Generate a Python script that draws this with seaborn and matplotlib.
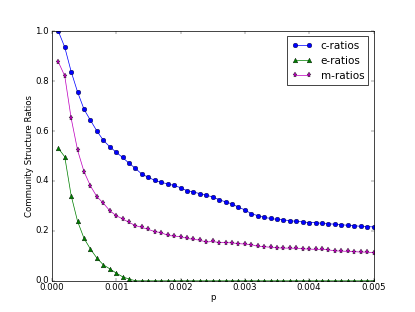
import numpy as np
import pandas as pd
import matplotlib
matplotlib.use('Agg')
import matplotlib.pyplot as plt
import seaborn as sns

# valores (p = 0.0001 ... 0.005)
p = np.arange(1, 51) * 0.0001

c_ratios = [1.000, 0.936, 0.838, 0.756, 0.687, 0.643, 0.600, 0.563, 0.537, 0.515,
            0.494, 0.471, 0.450, 0.427, 0.415, 0.402, 0.395, 0.388, 0.382, 0.373,
            0.361, 0.356, 0.349, 0.343, 0.336, 0.325, 0.316, 0.308, 0.295, 0.284,
            0.269, 0.261, 0.254, 0.250, 0.246, 0.244, 0.241, 0.238, 0.236, 0.233,
            0.233, 0.230, 0.228, 0.227, 0.225, 0.222, 0.221, 0.218, 0.217, 0.216]

e_ratios = [0.531, 0.497, 0.341, 0.238, 0.170, 0.127, 0.091, 0.064, 0.048, 0.031,
            0.016, 0.007] + [0.0] * 38

m_ratios = [0.877, 0.821, 0.651, 0.523, 0.437, 0.380, 0.337, 0.311, 0.281, 0.261,
            0.248, 0.234, 0.221, 0.214, 0.206, 0.197, 0.193, 0.182, 0.179, 0.177,
            0.170, 0.166, 0.163, 0.155, 0.158, 0.153, 0.153, 0.152, 0.149, 0.147,
            0.145, 0.138, 0.137, 0.134, 0.132, 0.131, 0.131, 0.130, 0.128, 0.127,
            0.126, 0.126, 0.124, 0.120, 0.119, 0.118, 0.117, 0.115, 0.115, 0.112]

series = [('c-ratios', c_ratios, 'b', 'o', 6.5),
          ('e-ratios', e_ratios, 'g', '^', 6.5),
          ('m-ratios', m_ratios, 'm', '*', 7)]

plt.style.use('classic')
fig, ax = plt.subplots(figsize=(415 / 52, 6), dpi=52)
fig.patch.set_facecolor('white')

for nome, vals, cor, mk, ms in series:
    sns.lineplot(x=p, y=vals, color=cor, marker=mk, markersize=ms,
                 markeredgecolor='k', markeredgewidth=0.5, linewidth=1,
                 label=nome, ax=ax)

ax.set_xlim(0, 0.005)
ax.set_ylim(0, 1.0)
ax.set_xticks([0.000, 0.001, 0.002, 0.003, 0.004, 0.005])
ax.set_xticklabels(['0.000', '0.001', '0.002', '0.003', '0.004', '0.005'])
ax.tick_params(axis='x', pad=3)
ax.set_xlabel('p', labelpad=1)
ax.set_ylabel('Community Structure Ratios', labelpad=2)
ax.legend(loc='upper right', numpoints=2, fancybox=False)

fig.savefig('out.png', dpi=52, facecolor='white')
